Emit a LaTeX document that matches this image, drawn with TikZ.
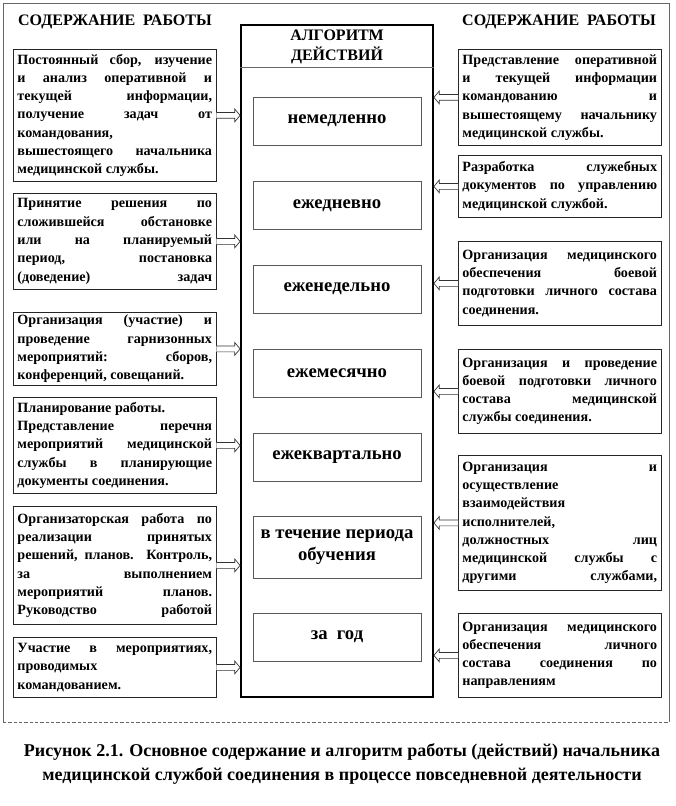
\documentclass[tikz,border=0pt]{standalone}
\usepackage{fontspec}
\setmainfont{Liberation Serif}
\usetikzlibrary{calc, positioning}

% hollow block arrow from #1 to the tip #2
\newcommand{\blockarrow}[2]{%
  \draw[arr] ($(#1)+(0,2.2pt)$) -- ($(#2)!4pt!(#1)+(0,2.2pt)$) -- ($(#2)!4pt!(#1)+(0,4.8pt)$)
    -- (#2) -- ($(#2)!4pt!(#1)+(0,-4.8pt)$) -- ($(#2)!4pt!(#1)+(0,-2.2pt)$) -- ($(#1)+(0,-2.2pt)$);
}

\begin{document}
\begin{tikzpicture}[x=0.75pt, y=-0.75pt,
  txt/.style={draw=black!85, line width=0.6pt, inner xsep=3pt, inner ysep=2pt, text width=146pt,
    align=justify, anchor=north west, font=\bfseries\fontsize{10.6}{13.7}\selectfont},
  period/.style={draw=black!65, line width=0.5pt, minimum width=126pt, minimum height=36pt,
    align=center, font=\bfseries\fontsize{14}{17}\selectfont},
  head/.style={font=\bfseries\fontsize{12}{14.5}\selectfont, align=center},
  arr/.style={draw=black!80, line width=0.5pt, fill=white}]
\useasboundingbox (0,0) rectangle (675,806);

% outer frame
\draw[black!60, line width=0.5pt] (3,722) -- (3,3) -- (669,3) -- (669,722);
\draw[black!60, line width=0.5pt, dash pattern=on 2.5pt off 1.5pt] (3,722) -- (669,722);

\node[head] (hl) at (115,22) {СОДЕРЖАНИЕ\ \ РАБОТЫ};
\node[head] (hr) at (559,22) {СОДЕРЖАНИЕ\ \ РАБОТЫ};

% algorithm column
\node[draw, line width=1.4pt, minimum width=144pt, minimum height=504pt] (alg) at (337,361) {};
\node[head] (algt) at (337,47) {АЛГОРИТМ\\ДЕЙСТВИЙ};
\draw[black!60, line width=0.5pt] ($(alg.north west)+(0,43)$) -- ($(alg.north east)+(0,43)$);

\node[period] (p1) at (337,121) {немедленно};
\node[period] (p2) at (337,205.5) {ежедневно};
\node[period] (p3) at (337,289) {еженедельно};
\node[period] (p4) at (337,373) {ежемесячно};
\node[period] (p5) at (337,457.5) {ежеквартально};
\node[period, minimum height=46.5pt] (p6) at (337,547) {в течение периода\\обучения};
\node[period] (p7) at (337,637) {за\ \ год};

% left column
\node[txt, minimum height=99pt] (l1) at (13,49) {Постоянный сбор, изучение \linebreak
  и анализ оперативной и \linebreak текущей информации, \linebreak получение задач от \linebreak
  командования,\newline вышестоящего начальника \linebreak медицинской службы.};
\node[txt, minimum height=72pt] (l2) at (13,193) {Принятие решения по \linebreak
  сложившейся обстановке \linebreak или на планируемый \linebreak период, постановка \linebreak
  (доведение) \hfill задач};
\node[txt, minimum height=54.75pt] (l3) at (13,312) {Организация (участие) и \linebreak
  проведение гарнизонных \linebreak мероприятий: сборов, \linebreak конференций, совещаний.};
\node[txt, minimum height=72pt] (l4) at (13,397) {Планирование работы.\newline
  Представление перечня \linebreak мероприятий медицинской \linebreak службы в планирующие \linebreak
  документы соединения.};
\node[txt, minimum height=88.5pt] (l5) at (13,506) {Организаторская работа по \linebreak
  реализации принятых \linebreak решений, планов. Контроль, \linebreak за выполнением \linebreak
  мероприятий планов. \linebreak Руководство \hfill работой};
\node[txt, minimum height=45pt] (l6) at (13,637) {Участие в мероприятиях, \linebreak
  проводимых\newline командованием.};

% right column
\node[txt, minimum height=72pt] (r1) at (458,49) {Представление оперативной \linebreak
  и текущей информации \linebreak командованию и \linebreak вышестоящему начальнику \linebreak
  медицинской службы.};
\node[txt, minimum height=46.5pt] (r2) at (458,155) {Разработка служебных \linebreak
  документов по управлению \linebreak медицинской службой.};
\node[txt, minimum height=63pt] (r3) at (458,241) {Организация медицинского \linebreak
  обеспечения боевой \linebreak подготовки личного состава \linebreak соединения.};
\node[txt, minimum height=63pt] (r4) at (458,349) {Организация и проведение \linebreak
  боевой подготовки личного \linebreak состава медицинской \linebreak службы соединения.};
\node[txt, minimum height=101.25pt] (r5) at (458,455) {Организация и \linebreak
  осуществление\newline взаимодействия\newline исполнителей,\newline
  должностных лиц \linebreak медицинской службы с \linebreak другими \hfill службами,};
\node[txt, minimum height=63pt] (r6) at (458,613) {Организация медицинского \linebreak
  обеспечения личного \linebreak состава соединения по \linebreak направлениям};

% arrows into the column
\foreach \b in {l1,l2,l3,l4,l5,l6} {
  \coordinate (\b a) at (\b.east -| alg.west);
  \blockarrow{\b.east}{\b a}
}
\foreach \b in {r1,r2,r3,r4,r5,r6} {
  \coordinate (\b a) at (\b.west -| alg.east);
  \blockarrow{\b.west}{\b a}
}

\node[font=\bfseries\fontsize{13.5}{18}\selectfont, align=center] (cap) at (342,764)
  {Рисунок 2.1. Основное содержание и алгоритм работы (действий) начальника\\
   медицинской службой соединения в процессе повседневной деятельности};
\end{tikzpicture}
\end{document}
